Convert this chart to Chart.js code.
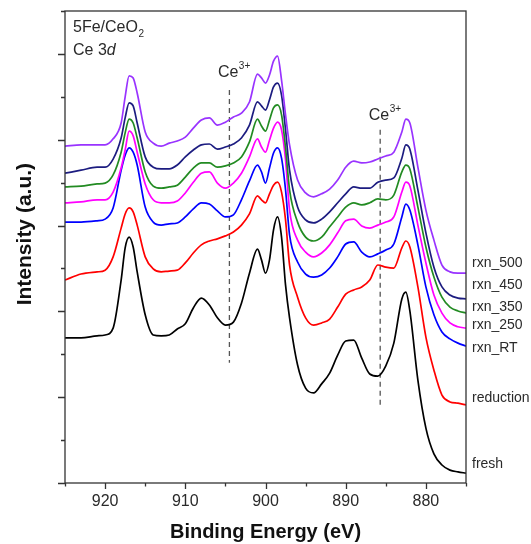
<!DOCTYPE html>
<html>
<head>
<meta charset="utf-8">
<script src="https://cdn.jsdelivr.net/npm/chart.js@4.4.1/dist/chart.umd.min.js"></script>
<style>
html,body{margin:0;padding:0;background:#ffffff;}
canvas{display:block;}
</style>
</head>
<body>
<canvas id="c" width="531" height="544"></canvas>
<script>
// Binding energy grid (eV)
const energy = [925,923,921,920,919,918,917.5,917,916.5,916,915,914,913,912,911,910,909,908,907,906,905,904,903,902,901,900.5,900,899.5,899,898.5,898,897.5,897,896,895,894,893,892,891,890,889,888,887,886,885,884,883,882.5,882,881,880,879,878,877,876,875];

// Intensities (a.u., stacked offsets as plotted)
const rxn500 = [7.85,7.88,7.88,7.88,8.02,8.39, 9.00,9.49,9.44,9.09, 8.18,7.92,7.85,7.92,7.97,8.06,8.27,8.46,8.51,8.34,8.41, 8.53,8.62,8.88,9.53, 9.44,9.32,9.51,9.83,9.95,9.39,8.58, 7.88,7.06,6.76,6.67,6.74,6.85,7.06,7.36,7.50,7.46,7.48,7.55,7.62,7.71,8.18, 8.48,8.39, 7.36,6.36,5.66,5.08,4.92,4.89,4.89];
const rxn450 = [7.22,7.29,7.36,7.36,7.55,8.04, 8.51,8.86,8.79,8.39, 7.60,7.36,7.32,7.32,7.41,7.60,7.76,7.88,7.90,7.78,7.83, 7.90,8.04,8.34,8.88, 8.79,8.69,8.93,9.23,9.32,9.04,8.23, 7.29,6.43,6.13,6.06,6.15,6.32,6.53,6.74,6.90,6.87,6.87,7.01,7.06,7.11,7.57, 7.88,7.78, 6.83,5.83,5.03,4.57,4.38,4.31,4.29];
const rxn350 = [6.90,6.92,6.97,6.99,7.18,7.71, 8.16,8.48,8.39,8.04, 7.25,6.92,6.87,6.90,6.94,7.13,7.34,7.46,7.46,7.36,7.39, 7.46,7.60,7.95,8.48, 8.32,8.20,8.46,8.74,8.81,8.58,7.81, 6.83,6.08,5.73,5.64,5.73,5.97,6.20,6.43,6.53,6.48,6.53,6.62,6.60,6.71,7.25, 7.41,7.32, 6.43,5.50,4.80,4.33,4.10,4.01,3.96];
const rxn250 = [6.53,6.55,6.60,6.60,6.78,7.34, 7.76,8.20,8.09,7.71, 6.97,6.60,6.53,6.53,6.57,6.76,7.01,7.22,7.25,6.99,6.87, 6.99,7.22,7.60,8.02, 7.83,7.71,7.99,8.27,8.41,8.23,7.53, 6.36,5.66,5.38,5.27,5.36,5.55,5.83,6.11,6.15,5.99,5.94,6.01,6.08,6.20,6.78, 7.01,6.92, 6.01,5.13,4.38,3.96,3.73,3.64,3.61];
const rxnRT  = [6.08,6.08,6.11,6.15,6.41,7.29, 7.64,7.81,7.71,7.41, 6.43,6.08,6.01,6.04,6.06,6.20,6.39,6.53,6.50,6.34,6.20, 6.25,6.60,7.04,7.41, 7.25,6.99,7.34,7.69,7.81,7.57,6.83, 5.78,5.15,4.87,4.80,4.85,5.01,5.27,5.57,5.62,5.38,5.27,5.34,5.43,5.57,6.20, 6.50,6.36, 5.55,4.57,3.92,3.52,3.36,3.26,3.19];
const reduction = [4.73,4.87,4.92,4.96,5.27,5.94, 6.27,6.41,6.32,6.01, 5.27,4.99,4.92,4.94,4.96,5.13,5.36,5.55,5.64,5.69,5.76, 5.85,6.01,6.27,6.69, 6.60,6.53,6.74,6.94,7.01,6.78,6.13, 5.08,4.33,3.85,3.68,3.73,3.82,4.10,4.40,4.50,4.57,4.73,5.08,5.03,5.01,5.48, 5.64,5.50, 4.57,3.40,2.63,2.05,1.89,1.86,1.82];
const fresh = [3.38,3.38,3.43,3.45,3.61,4.73, 5.48,5.73,5.50,4.92, 3.92,3.45,3.43,3.45,3.59,3.71,4.08,4.31,4.15,3.85,3.68, 3.75,4.19,4.89,5.45, 5.20,4.89,5.20,5.90,6.20,5.73,4.61, 3.85,2.75,2.21,2.10,2.31,2.56,2.98,3.31,3.33,2.91,2.54,2.49,2.73,3.26,4.29, 4.45,4.01, 2.40,1.28,0.68,0.42,0.30,0.26,0.23];

const seriesNames = ['rxn_500','rxn_450','rxn_350','rxn_250','rxn_RT','reduction','fresh'];
const seriesValues = [rxn500, rxn450, rxn350, rxn250, rxnRT, reduction, fresh];
const seriesColors = ['#9933ff','#1c1c80','#228b22','#ff00ff','#0000ff','#ff0000','#000000'];
const labelLevels = [5.13, 4.61, 4.10, 3.68, 3.15, 1.98, 0.44];

// Ce3+ marker lines
const ce3Energies = [904.5, 885.7];
const ce3Top = [9.16, 8.23];
const ce3Bottom = [2.80, 1.75];
const ce3LabelLevels = [9.46, 8.46];

// ticks
const xTickValues = [875,880,885,890,895,900,905,910,915,920,925];
const xTickLabels = ['920','910','900','890','880'];
const yTickValues = [0,1,2,3,4,5,6,7,8,9,10,11];

const FONT = '"Liberation Sans", Arial, Helvetica, sans-serif';
const TEXT = '#2a2a2a';

const datasets = seriesNames.map((n, k) => ({
  label: n,
  data: energy.map((e, i) => ({x: e, y: seriesValues[k][i]})),
  borderColor: seriesColors[k],
  borderWidth: 1.7,
  pointRadius: 0,
  fill: false,
  cubicInterpolationMode: 'monotone'
}));
ce3Energies.forEach((e, k) => {
  datasets.push({
    label: 'Ce3+ ' + e,
    data: [{x: e, y: ce3Top[k]}, {x: e, y: ce3Bottom[k]}],
    borderColor: '#555555',
    borderWidth: 1.3,
    borderDash: [5, 4],
    pointRadius: 0,
    fill: false
  });
});

const deco = {
  id: 'deco',
  afterDraw(chart) {
    const {ctx, chartArea: a, scales: {x, y}} = chart;
    ctx.save();
    // frame
    ctx.strokeStyle = '#333333';
    ctx.lineWidth = 1.3;
    ctx.strokeRect(a.left, a.top, a.right - a.left, a.bottom - a.top);
    // tick marks
    ctx.beginPath();
    xTickValues.forEach(v => {
      const px = Math.round(x.getPixelForValue(v)) + 0.5;
      const len = v % 10 === 0 ? 6 : 3.5;
      ctx.moveTo(px, a.bottom); ctx.lineTo(px, a.bottom + len);
    });
    yTickValues.forEach(v => {
      const py = Math.round(y.getPixelForValue(v)) + 0.5;
      const len = v % 2 === 0 ? 7 : 4;
      ctx.moveTo(a.left, py); ctx.lineTo(a.left - len, py);
    });
    ctx.stroke();

    ctx.fillStyle = TEXT;
    // series labels
    ctx.font = '14px ' + FONT;
    ctx.textAlign = 'left';
    ctx.textBaseline = 'middle';
    seriesNames.forEach((n, k) => {
      ctx.fillText(n, a.right + 6, y.getPixelForValue(labelLevels[k]));
    });

    // Ce3+ labels
    ctx.textBaseline = 'alphabetic';
    ce3Energies.forEach((e, k) => {
      const px = x.getPixelForValue(e) - 11.5;
      const py = y.getPixelForValue(ce3LabelLevels[k]);
      ctx.font = '16px ' + FONT;
      ctx.fillText('Ce', px, py);
      const w = ctx.measureText('Ce').width;
      ctx.font = '10px ' + FONT;
      ctx.fillText('3+', px + w + 0.5, py - 8);
    });

    // sample annotation (top-left)
    const tx = a.left + 8;
    ctx.font = '16px ' + FONT;
    ctx.fillText('5Fe/CeO', tx, a.top + 21);
    let w = ctx.measureText('5Fe/CeO').width;
    ctx.font = '10px ' + FONT;
    ctx.fillText('2', tx + w + 0.5, a.top + 25.5);
    ctx.font = '16px ' + FONT;
    ctx.fillText('Ce 3', tx, a.top + 44);
    w = ctx.measureText('Ce 3').width;
    ctx.font = 'italic 16px ' + FONT;
    ctx.fillText('d', tx + w, a.top + 44);

    // y axis title
    ctx.save();
    ctx.translate(a.left - 40, y.getPixelForValue(5.80));
    ctx.rotate(-Math.PI / 2);
    ctx.textAlign = 'center';
    ctx.textBaseline = 'middle';
    ctx.font = 'bold 21px ' + FONT;
    ctx.fillStyle = '#111111';
    ctx.fillText('Intensity (a.u.)', 0, 0);
    ctx.restore();

    ctx.restore();
  }
};

new Chart(document.getElementById('c').getContext('2d'), {
  type: 'line',
  data: { datasets },
  plugins: [deco],
  options: {
    responsive: false,
    animation: false,
    events: [],
    layout: { padding: { left: 0, right: 65, top: 11, bottom: 0 } },
    plugins: { legend: { display: false }, tooltip: { enabled: false } },
    scales: {
      x: {
        type: 'linear',
        reverse: true,
        min: 875,
        max: 925,
        afterBuildTicks(scale) { scale.ticks = xTickValues.map(v => ({value: v})); },
        afterFit(scale) { scale.height = 61; },
        grid: { display: false, drawTicks: false },
        border: { display: false },
        ticks: {
          autoSkip: false,
          maxRotation: 0,
          padding: 9,
          color: TEXT,
          font: { family: FONT, size: 16 },
          callback: (v) => xTickLabels.includes(String(v)) ? String(v) : ''
        },
        title: {
          display: true,
          text: 'Binding Energy (eV)',
          color: '#111111',
          font: { family: FONT, size: 20, weight: 'bold' },
          padding: { top: 0, bottom: 0 }
        }
      },
      y: {
        min: 0,
        max: 11,
        afterFit(scale) { scale.width = 65; },
        grid: { display: false, drawTicks: false },
        border: { display: false },
        ticks: { display: false, stepSize: 1 }
      }
    }
  }
});
</script>
</body>
</html>
